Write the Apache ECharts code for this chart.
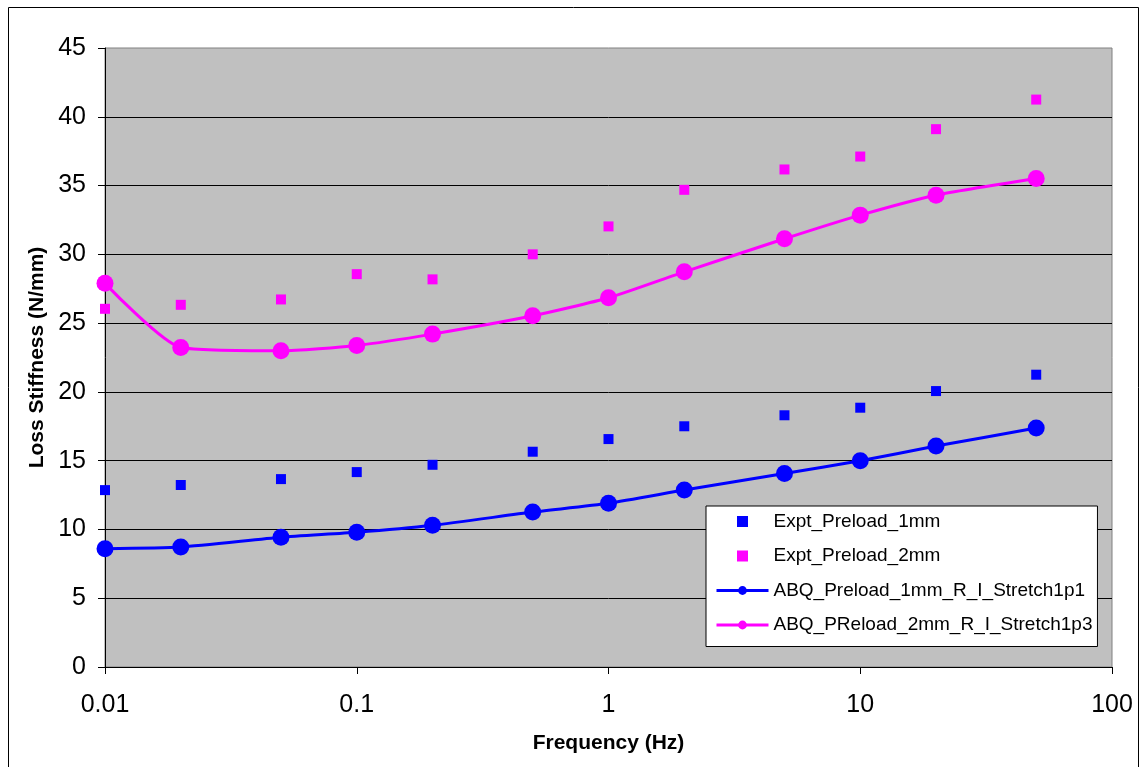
<!DOCTYPE html>
<html>
<head>
<meta charset="utf-8">
<title>Loss Stiffness vs Frequency</title>
<script src="https://cdn.jsdelivr.net/npm/echarts@6/dist/echarts.min.js"></script>
<style>
  html, body { margin: 0; padding: 0; background: #ffffff; }
  #chart { width: 1143px; height: 767px; }
</style>
</head>
<body>
<div id="chart"></div>
<script>
// Test frequencies (Hz)
const frequencies = [0.01, 0.02, 0.05, 0.1, 0.2, 0.5, 1, 2, 5, 10, 20, 50];

// Measured loss stiffness (N/mm)
const exptPreload1mm = [12.86, 13.23, 13.66, 14.17, 14.70, 15.65, 16.57, 17.50, 18.30, 18.85, 20.06, 21.25];
const exptPreload2mm = [26.04, 26.33, 26.72, 28.56, 28.18, 30.00, 32.03, 34.69, 36.17, 37.11, 39.10, 41.25];

// Simulated loss stiffness (N/mm)
const abqPreload1mm = [8.60, 8.72, 9.43, 9.79, 10.30, 11.26, 11.90, 12.86, 14.06, 14.99, 16.06, 17.37];
const abqPreload2mm = [27.89, 23.23, 22.99, 23.38, 24.20, 25.53, 26.84, 28.73, 31.13, 32.85, 34.30, 35.51];

// Series names and axis labels
const seriesNames = [
  'Expt_Preload_1mm',
  'Expt_Preload_2mm',
  'ABQ_Preload_1mm_R_I_Stretch1p1',
  'ABQ_PReload_2mm_R_I_Stretch1p3'
];
const xAxisTitle = 'Frequency (Hz)';
const yAxisTitle = 'Loss Stiffness (N/mm)';
const xTickLabels = { 0.01: '0.01', 0.1: '0.1', 1: '1', 10: '10', 100: '100' };

const pairs = (vals) => frequencies.map((f, i) => [f, vals[i]]);

const FONT = "'Liberation Sans', Arial, Helvetica, sans-serif";
const BLUE = '#0000FF';
const MAGENTA = '#FF00FF';
// square legend marker; a path icon keeps its aspect inside the wide legend slot
const SQUARE_ICON = 'path://M0,0L10,0L10,10L0,10Z';

const chart = echarts.init(document.getElementById('chart'), null, { renderer: 'canvas' });

chart.setOption({
  animation: false,
  backgroundColor: '#ffffff',
  textStyle: { fontFamily: FONT, color: '#000' },
  graphic: [{
    type: 'rect',
    silent: true,
    z: -10,
    shape: { x: 8.5, y: 7.5, width: 1130, height: 800 },
    style: { fill: 'none', stroke: '#000', lineWidth: 1 }
  }],
  grid: {
    left: 105,
    top: 48,
    width: 1007,
    height: 619,
    show: true,
    backgroundColor: '#C0C0C0',
    borderColor: '#808080',
    borderWidth: 1
  },
  legend: {
    orient: 'vertical',
    left: 706,
    top: 506,
    padding: [6, 5, 12, 9],
    itemGap: 15.5,
    itemWidth: 52,
    itemHeight: 11,
    itemTextGap: 4,
    symbolKeepAspect: true,
    backgroundColor: '#ffffff',
    borderColor: '#000000',
    borderWidth: 1,
    borderRadius: 0,
    textStyle: { fontFamily: FONT, fontSize: 19, color: '#000' },
    data: [
      { name: seriesNames[0], icon: SQUARE_ICON, itemStyle: { color: BLUE, opacity: 1 } },
      { name: seriesNames[1], icon: SQUARE_ICON, itemStyle: { color: MAGENTA, opacity: 1 } },
      { name: seriesNames[2], lineStyle: { color: BLUE, width: 3 }, itemStyle: { color: BLUE } },
      { name: seriesNames[3], lineStyle: { color: MAGENTA, width: 3 }, itemStyle: { color: MAGENTA } }
    ]
  },
  xAxis: {
    type: 'log',
    logBase: 10,
    min: 0.01,
    max: 100,
    name: xAxisTitle,
    nameLocation: 'middle',
    nameGap: 66,
    nameTextStyle: { fontFamily: FONT, fontSize: 21, fontWeight: 'bold', color: '#000' },
    axisLine: { show: true, onZero: false, lineStyle: { color: '#000', width: 1 } },
    axisTick: { show: true, inside: false, length: 7, lineStyle: { color: '#000' } },
    minorTick: { show: false },
    splitLine: { show: false },
    axisLabel: {
      fontFamily: FONT,
      fontSize: 25,
      color: '#000',
      margin: 26,
      formatter: (v) => {
        const key = Number(v.toPrecision(6));
        return xTickLabels[key] !== undefined ? xTickLabels[key] : String(key);
      }
    }
  },
  yAxis: {
    type: 'value',
    min: 0,
    max: 45,
    interval: 5,
    name: yAxisTitle,
    nameLocation: 'middle',
    nameGap: 57,
    nameTextStyle: { fontFamily: FONT, fontSize: 21, fontWeight: 'bold', color: '#000' },
    axisLine: { show: true, lineStyle: { color: '#000', width: 1 } },
    axisTick: { show: true, inside: false, length: 7, lineStyle: { color: '#000' } },
    splitLine: {
      show: true,
      showMinLine: false,
      showMaxLine: false,
      lineStyle: { color: '#000', width: 1 }
    },
    axisLabel: { fontFamily: FONT, fontSize: 25, color: '#000', margin: 19 }
  },
  series: [
    {
      name: seriesNames[0],
      type: 'scatter',
      data: pairs(exptPreload1mm),
      symbol: 'rect',
      symbolSize: 10,
      itemStyle: { color: BLUE, opacity: 1 },
      z: 3
    },
    {
      name: seriesNames[1],
      type: 'scatter',
      data: pairs(exptPreload2mm),
      symbol: 'rect',
      symbolSize: 10,
      itemStyle: { color: MAGENTA, opacity: 1 },
      z: 3
    },
    {
      name: seriesNames[2],
      type: 'line',
      data: pairs(abqPreload1mm),
      smooth: 0.2,
      symbol: 'circle',
      symbolSize: 17,
      showAllSymbol: true,
      lineStyle: { color: BLUE, width: 3 },
      itemStyle: { color: BLUE },
      z: 4
    },
    {
      name: seriesNames[3],
      type: 'line',
      data: pairs(abqPreload2mm),
      smooth: 0.2,
      symbol: 'circle',
      symbolSize: 17,
      showAllSymbol: true,
      lineStyle: { color: MAGENTA, width: 3 },
      itemStyle: { color: MAGENTA },
      z: 4
    }
  ]
});
</script>
</body>
</html>
